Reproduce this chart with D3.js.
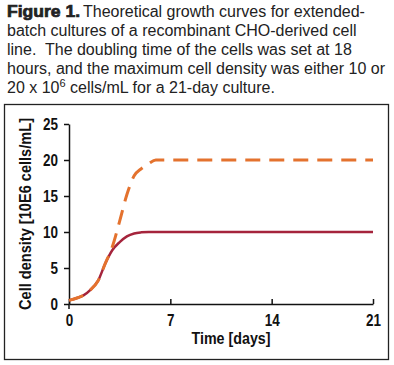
<!DOCTYPE html>
<html>
<head>
<meta charset="utf-8">
<script src="https://cdn.jsdelivr.net/npm/d3@7"></script>
<style>
  body { margin: 0; background: #fff; }
  svg { display: block; }
  text { white-space: pre; }
</style>
</head>
<body>
<svg width="394" height="365"></svg>
<script>
// values
const days = [0, 0.5, 1, 1.5, 2, 2.5, 3, 3.5, 4, 4.5, 5, 5.5, 6, 7, 14, 21];
const density10 = [0.5, 0.8, 1.2, 2.0, 3.2, 5.6, 7.5, 8.6, 9.4, 9.8, 9.95, 10, 10, 10, 10, 10];
const density20 = [0.5, 0.8, 1.2, 2.0, 3.2, 5.6, 8.0, 11.5, 15.2, 17.8, 18.8, 19.5, 20, 20, 20, 20];
const xTicks = [0, 7, 14, 21];
const yTicks = [0, 5, 10, 15, 20, 25];
const captionLines = [
  "Theoretical growth curves for extended-",
  "batch cultures of a recombinant CHO-derived cell",
  "line.  The doubling time of the cells was set at 18",
  "hours, and the maximum cell density was either 10 or",
  "20 x 10"
];

const svg = d3.select("svg");
const bold = "'Liberation Sans', Arial, sans-serif";
const plain = "'Liberation Sans', Arial, sans-serif";

// caption
const cap = svg.append("g").attr("fill", "#222").style("font-family", plain).style("font-size", "16px");
const l1 = cap.append("text").attr("x", 7).attr("y", 17);
cap.append("text").attr("x", 7).attr("y", 17)
  .attr("textLength", 73).attr("lengthAdjust", "spacingAndGlyphs")
  .style("font-weight", "bold").attr("stroke", "#222").attr("stroke-width", 0.7)
  .text("Figure 1.");
l1.attr("x", 83).text(captionLines[0]);
captionLines.slice(1, 4).forEach((t, i) => {
  cap.append("text").attr("x", 7).attr("y", 36 + i * 19).text(t);
});
const l5 = cap.append("text").attr("x", 7).attr("y", 93);
l5.append("tspan").text(captionLines[4]);
l5.append("tspan").attr("dy", -6).style("font-size", "11px").text("6");
l5.append("tspan").attr("dy", 6).text(" cells/mL for a 21-day culture.");

// frame
svg.append("rect").attr("x", 4.5).attr("y", 104.5).attr("width", 384).attr("height", 255)
  .attr("fill", "none").attr("stroke", "#222").attr("stroke-width", 1.3);

const x = d3.scaleLinear().domain([0, 21]).range([69, 373]);
const y = d3.scaleLinear().domain([0, 25]).range([304, 124]);

// axes
const xAxis = svg.append("g").attr("transform", `translate(0,${y(0)})`)
  .call(d3.axisBottom(x).tickValues(xTicks).tickSizeInner(-5).tickSizeOuter(0).tickPadding(10));
const yAxis = svg.append("g").attr("transform", `translate(${x(0)},0)`)
  .call(d3.axisLeft(y).tickValues(yTicks).tickSizeInner(5).tickSizeOuter(0).tickPadding(6));
[xAxis, yAxis].forEach(a => {
  a.select(".domain").attr("stroke", "#111").attr("stroke-width", 1.5);
  a.selectAll(".tick line").attr("stroke", "#111").attr("stroke-width", 1.5);
  a.selectAll(".tick text").attr("fill", "#111")
    .style("font-family", bold).style("font-weight", "bold").style("font-size", "17px")
    .attr("textLength", d => String(d).length * 7.5).attr("lengthAdjust", "spacingAndGlyphs");
});
// y axis extends a bit below zero
svg.append("line").attr("x1", x(0)).attr("x2", x(0)).attr("y1", y(0)).attr("y2", y(0) + 5)
  .attr("stroke", "#111").attr("stroke-width", 1.5);

// curves
const line = vals => d3.line().x((d, i) => x(days[i])).y(d => y(d)).curve(d3.curveMonotoneX)(vals);
svg.append("path").attr("d", line(density10)).attr("fill", "none")
  .attr("stroke", "#a5243c").attr("stroke-width", 2.5);
svg.append("path").attr("d", line(density20)).attr("fill", "none")
  .attr("stroke", "#e4722e").attr("stroke-width", 3).attr("stroke-dasharray", "15,9");

// axis titles
svg.append("text").attr("x", 231).attr("y", 344).attr("text-anchor", "middle")
  .attr("fill", "#111").style("font-family", bold).style("font-weight", "bold").style("font-size", "17px")
  .attr("textLength", 79).attr("lengthAdjust", "spacingAndGlyphs")
  .text("Time [days]");
svg.append("text").attr("transform", "translate(31,214) rotate(-90)").attr("text-anchor", "middle")
  .attr("fill", "#111").style("font-family", bold).style("font-weight", "bold").style("font-size", "17px")
  .attr("textLength", 192).attr("lengthAdjust", "spacingAndGlyphs")
  .text("Cell density [10E6 cells/mL]");
</script>
</body>
</html>
